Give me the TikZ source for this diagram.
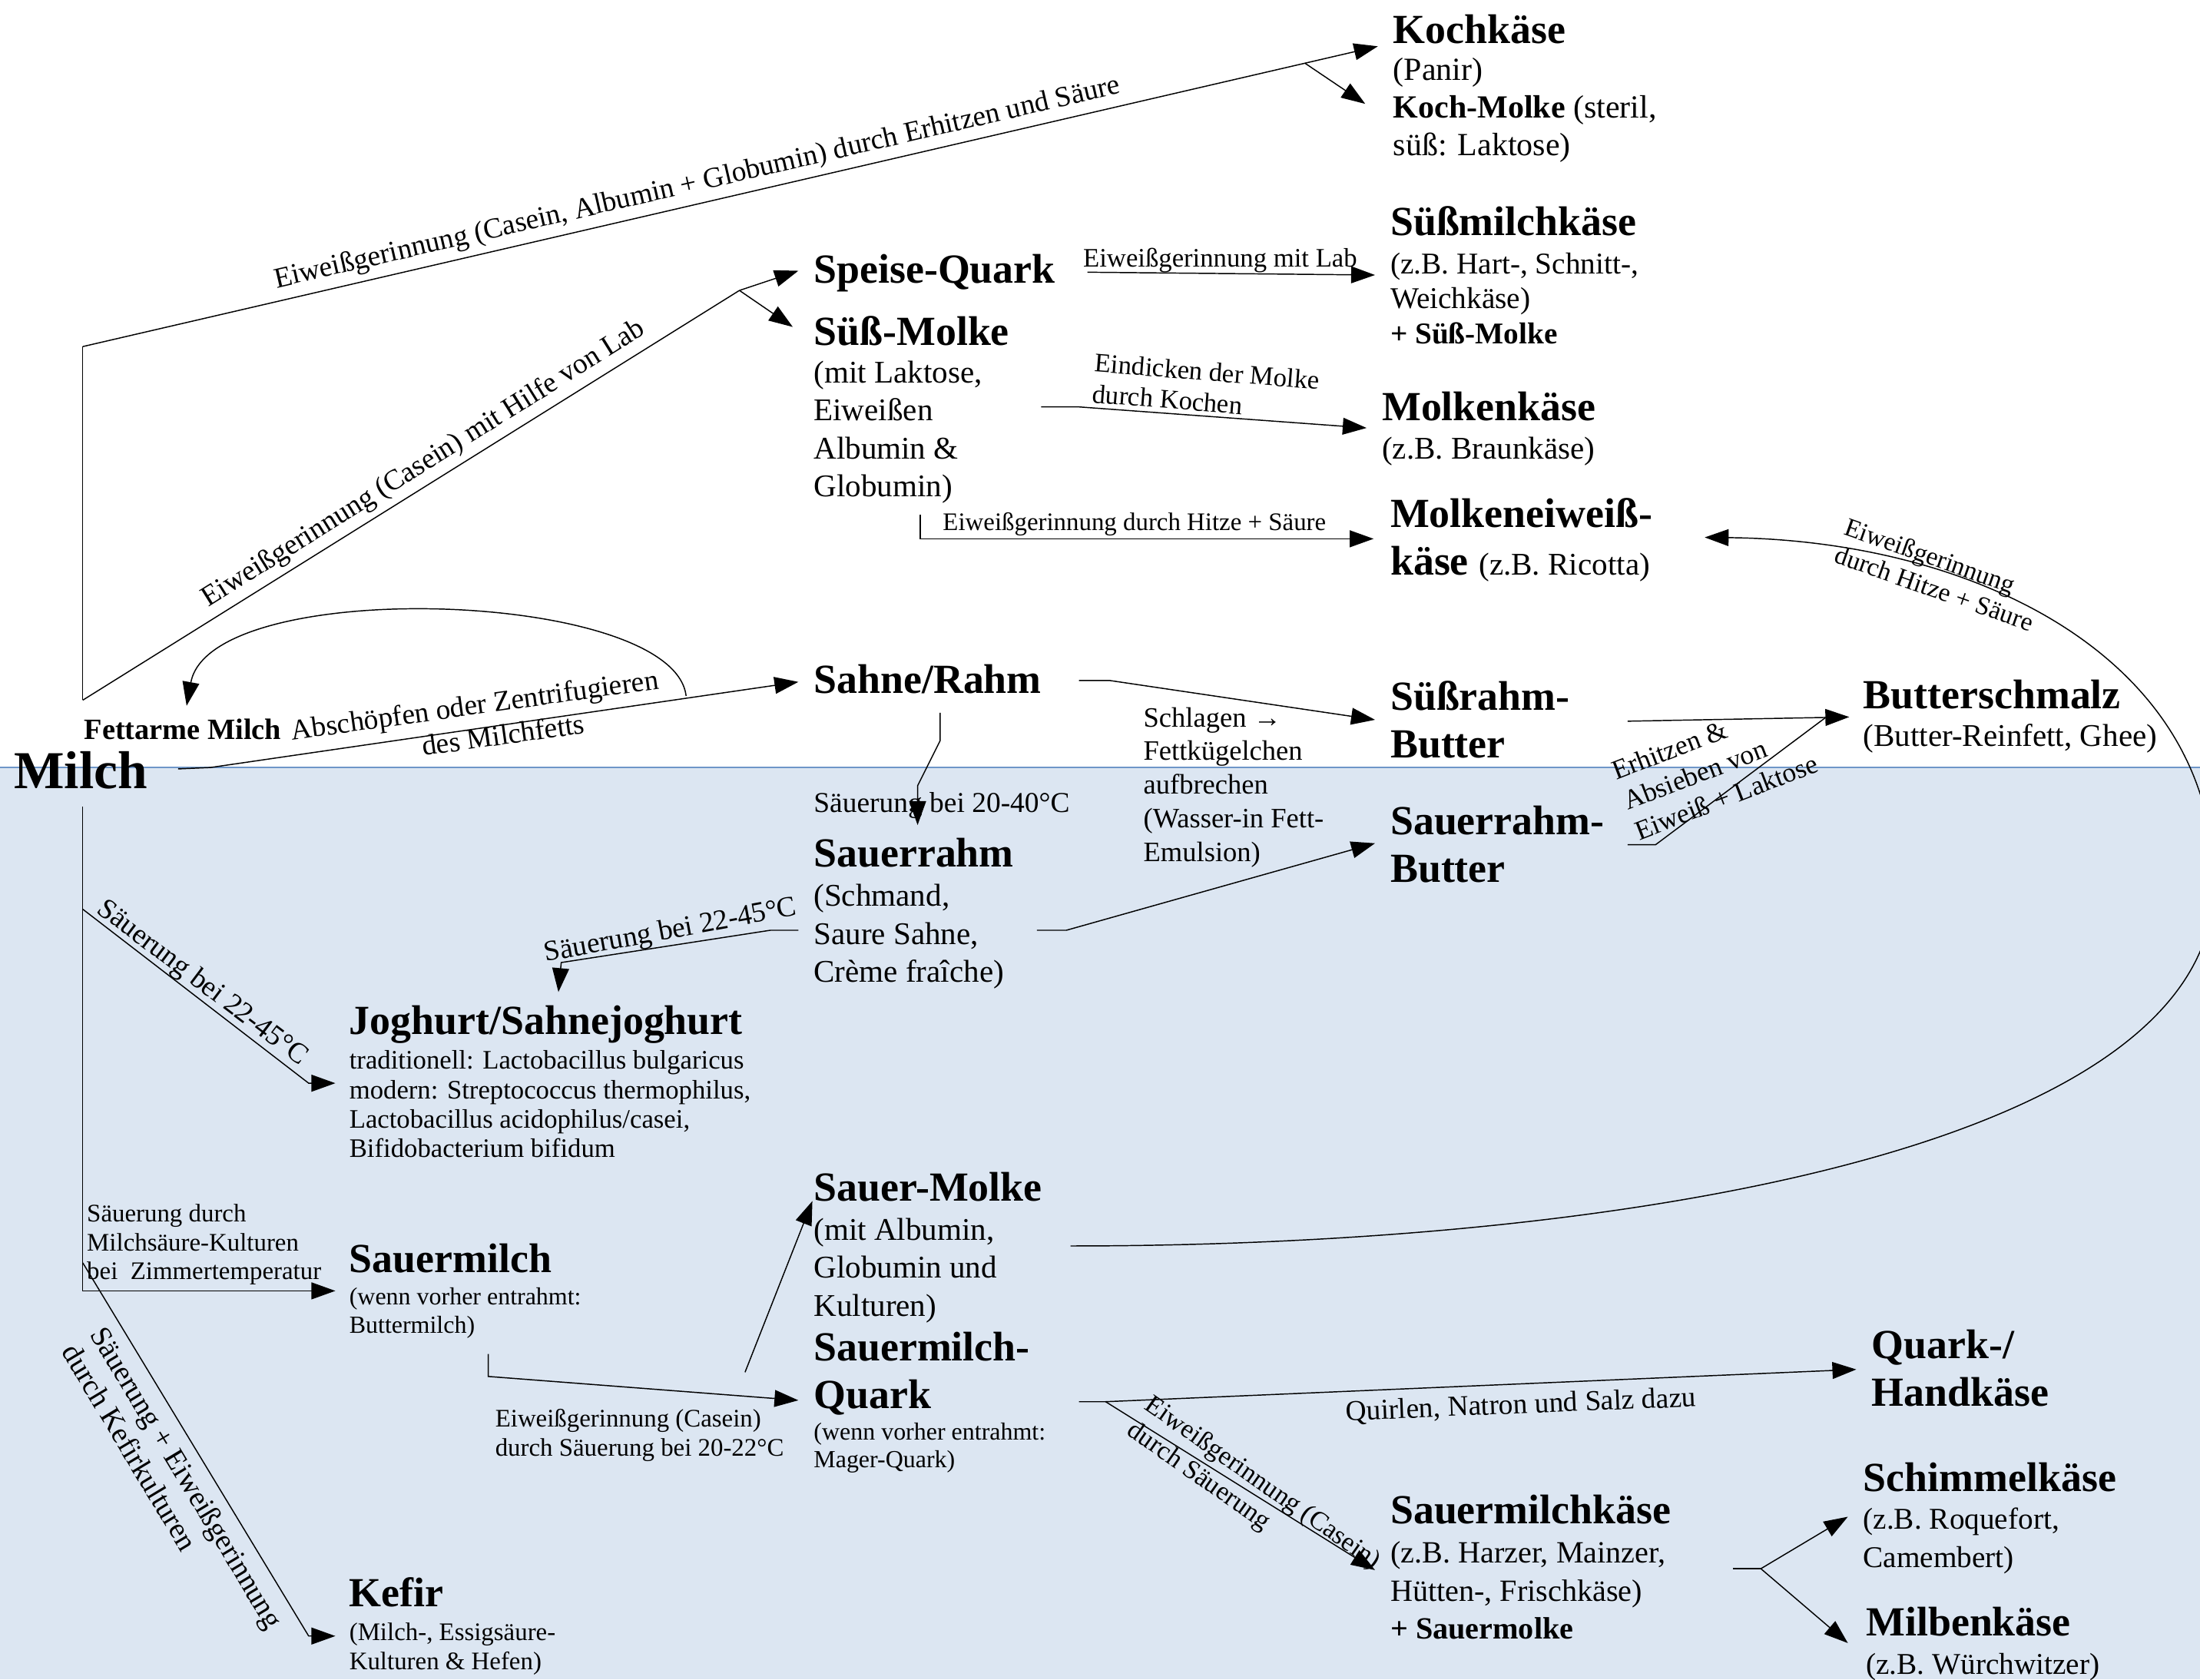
\documentclass[tikz,border=0pt]{standalone}
\usepackage{fontspec}
\setmainfont{Liberation Serif}
\usetikzlibrary{arrows.meta}
\definecolor{bgblue}{RGB}{220,230,242}
\definecolor{sepblue}{RGB}{110,150,200}
\begin{document}
\begin{tikzpicture}[x=1pt,y=-1pt,
  every node/.style={inner sep=0pt, outer sep=0pt},
  conn/.style={line width=0.8pt, draw=black},
  arr/.style={conn, -{Triangle[length=17pt,width=12pt]}},
  ttl/.style={anchor=base west, align=left, font=\fontsize{29.5}{34}\selectfont\bfseries},
  dsc/.style={anchor=base west, align=left, font=\fontsize{22.5}{27}\selectfont},
  sml/.style={anchor=base west, align=left, font=\fontsize{17.5}{20}\selectfont},
  elb/.style={font=\fontsize{19}{22}\selectfont},
  elbL/.style={font=\fontsize{20.5}{24}\selectfont},
]
\useasboundingbox (0,0) rectangle (1568,1197);
\fill[white] (0,0) rectangle (1568,547);
\fill[bgblue] (0,547) rectangle (1568,1197);
\draw[sepblue, line width=0.8pt] (0,547) -- (1568,547);
\clip (0,0) rectangle (1568,1197);

% ---------- nodes (multi-line nodes are anchored at the baseline of their last line) ----------
\node[anchor=base west, font=\fontsize{38}{44}\selectfont\bfseries] (milch) at (10,562) {Milch};
\node[anchor=base west, font=\fontsize{21}{24}\selectfont\bfseries] (fettarm) at (60,527) {Fettarme Milch};

\node[ttl] (kochT) at (993,31) {Kochkäse};
\node[dsc, font=\fontsize{23}{27}\selectfont] (kochD) at (993,111) {(Panir)\\\textbf{Koch-Molke} (steril,\\süß: Laktose)};

\node[ttl] (suessT) at (991,168) {Süßmilchkäse};
\node[dsc, font=\fontsize{21.5}{25}\selectfont] (suessD) at (991,245) {(z.B. Hart-, Schnitt-,\\Weichkäse)\\\textbf{+ Süß-Molke}};

\node[ttl] (molkenT) at (985,300) {Molkenkäse};
\node[dsc] (molkenD) at (985,327) {(z.B. Braunkäse)};

\node[ttl] (ricotta) at (991,410) {Molkeneiweiß-\\käse {\mdseries\fontsize{22.5}{27}\selectfont (z.B. Ricotta)}};

\node[ttl] (speise) at (580,202) {Speise-Quark};
\node[ttl] (suessMT) at (580,246) {Süß-Molke};
\node[dsc] (suessMD) at (580,354) {(mit Laktose,\\Eiweißen\\Albumin \&\\Globumin)};

\node[ttl] (sahne) at (580,494) {Sahne/Rahm};
\node[ttl] (sbutter) at (991,540) {Süßrahm-\\Butter};
\node[ttl] (schmalzT) at (1328,505) {Butterschmalz};
\node[dsc] (schmalzD) at (1328,532) {(Butter-Reinfett, Ghee)};
\node[ttl] (srbutter) at (991,629) {Sauerrahm-\\Butter};

\node[ttl] (srT) at (580,618) {Sauerrahm};
\node[dsc] (srD) at (580,700) {(Schmand,\\Saure Sahne,\\Crème fraîche)};

\node[ttl] (jogT) at (249,737) {Joghurt/Sahnejoghurt};
\node[dsc, font=\fontsize{19}{21}\selectfont] (jogD) at (249,825) {traditionell: Lactobacillus bulgaricus\\modern: Streptococcus thermophilus,\\Lactobacillus acidophilus/casei,\\Bifidobacterium bifidum};

\node[ttl] (smT) at (580,856) {Sauer-Molke};
\node[dsc] (smD) at (580,938) {(mit Albumin,\\Globumin und\\Kulturen)};

\node[ttl] (smqT) at (580,1004) {Sauermilch-\\Quark};
\node[sml] (smqD) at (580,1046) {(wenn vorher entrahmt:\\Mager-Quark)};

\node[ttl] (sauermT) at (249,907) {Sauermilch};
\node[sml] (sauermD) at (249,950) {(wenn vorher entrahmt:\\Buttermilch)};

\node[ttl] (kefirT) at (249,1145) {Kefir};
\node[dsc, font=\fontsize{18}{21}\selectfont] (kefirD) at (249,1190) {(Milch-, Essigsäure-\\Kulturen \& Hefen)};

\node[ttl] (hand) at (1334,1002) {Quark-/\\Handkäse};

\node[ttl] (smkT) at (991,1086) {Sauermilchkäse};
\node[dsc, font=\fontsize{22}{27}\selectfont] (smkD) at (991,1168) {(z.B. Harzer, Mainzer,\\Hütten-, Frischkäse)\\\textbf{+ Sauermolke}};

\node[ttl] (schimT) at (1328,1063) {Schimmelkäse};
\node[dsc, font=\fontsize{21.5}{27}\selectfont] (schimD) at (1328,1117) {(z.B. Roquefort,\\Camembert)};
\node[ttl] (milbT) at (1330,1166) {Milbenkäse};
\node[dsc, font=\fontsize{21.5}{27}\selectfont] (milbD) at (1330,1193) {(z.B. Würchwitzer)};

% ---------- coordinates ----------
\coordinate (mTop) at (59,247);
\coordinate (mFork) at (59,499);
\coordinate (kochIn) at (982,33);
\coordinate (kochFork) at (930,45);
\coordinate (kochMIn) at (973,74);
\coordinate (labFork) at (527,207);
\coordinate (speiseIn) at (569,193);
\coordinate (suessMIn) at (565,233);
\coordinate (fettStart) at (489,496);
\coordinate (fettIn) at (133,503);
\coordinate (milchR) at (127,548);
\coordinate (milchR2) at (150,547);
\coordinate (sahneIn) at (569,486);
\coordinate (speiseOut) at (775,194);
\coordinate (suessIn) at (980,196);
\coordinate (smOut) at (742,290);
\coordinate (smOut2) at (769,290);
\coordinate (molkenIn) at (974,305);
\coordinate (smDown) at (656,367);
\coordinate (smDown2) at (656,384);
\coordinate (ricottaIn) at (979,384);
\coordinate (sahneOut) at (769,485);
\coordinate (sahneOut2) at (791,485);
\coordinate (sbutterIn) at (980,513);
\coordinate (srOut) at (739,663);
\coordinate (srOut2) at (760,663);
\coordinate (srbutterIn) at (980,601);
\coordinate (sahneDown) at (670,508);
\coordinate (sahneDown2) at (670,528);
\coordinate (sahneDown3) at (654,560);
\coordinate (srIn) at (654,588);
\coordinate (srLeft) at (569,663);
\coordinate (srLeft2) at (549,663);
\coordinate (srLeft3) at (400,686);
\coordinate (jogIn2) at (398,707);
\coordinate (mJog) at (59,648);
\coordinate (mJog2) at (220,772);
\coordinate (jogIn) at (239,772);
\coordinate (mBot) at (59,575);
\coordinate (mCorner) at (59,920);
\coordinate (sauermIn) at (239,920);
\coordinate (mKef) at (59,900);
\coordinate (mKef2) at (220,1166);
\coordinate (kefIn) at (239,1166);
\coordinate (sauermOut) at (348,965);
\coordinate (sauermOut2) at (348,981);
\coordinate (smqIn) at (569,998);
\coordinate (smqUp) at (531,978);
\coordinate (smIn) at (579,856);
\coordinate (smRight) at (763,888);
\coordinate (curveR) at (1578,630);
\coordinate (ricottaInR) at (1215,383);
\coordinate (sbutterOut) at (1160,514);
\coordinate (schmalzIn) at (1318,511);
\coordinate (srbutterOut) at (1160,602);
\coordinate (srbutterOut2) at (1180,602);
\coordinate (schmalzJoin) at (1301,511.5);
\coordinate (smqOut) at (769,999);
\coordinate (smqOut2) at (788,999);
\coordinate (handIn) at (1323,976);
\coordinate (smkIn) at (980,1119);
\coordinate (smkOut) at (1235,1118);
\coordinate (smkOut2) at (1255,1118);
\coordinate (schimIn) at (1317,1081);
\coordinate (milbIn) at (1317,1171);

% ---------- connectors ----------
\draw[conn] (mFork) -- (mTop);
\draw[arr] (mTop) -- (kochIn);
\draw[arr] (kochFork) -- (kochMIn);
\draw[conn] (mFork) -- (labFork);
\draw[arr] (labFork) -- (speiseIn);
\draw[arr] (labFork) -- (suessMIn);
\draw[arr] (fettStart) .. controls (480,420) and (150,410) .. (fettIn);
\draw[arr] (milchR) -- (milchR2) -- (sahneIn);
\draw[arr] (speiseOut) -- (suessIn);
\draw[arr] (smOut) -- (smOut2) -- (molkenIn);
\draw[arr] (smDown) -- (smDown2) -- (ricottaIn);
\draw[arr] (sahneOut) -- (sahneOut2) -- (sbutterIn);
\draw[arr] (srOut) -- (srOut2) -- (srbutterIn);
\draw[arr] (sahneDown) -- (sahneDown2) -- (sahneDown3) -- (srIn);
\draw[arr] (srLeft) -- (srLeft2) -- (srLeft3) -- (jogIn2);
\draw[arr] (mJog) -- (mJog2) -- (jogIn);
\draw[arr] (mBot) -- (mCorner) -- (sauermIn);
\draw[arr] (mKef) -- (mKef2) -- (kefIn);
\draw[arr] (sauermOut) -- (sauermOut2) -- (smqIn);
\draw[arr] (smqUp) -- (smIn);
\draw[arr] (smRight) .. controls (1150,888) and (1578,820) .. (curveR)
                     .. controls (1578,470) and (1410,385) .. (ricottaInR);
\draw[arr] (sbutterOut) -- (schmalzIn);
\draw[conn] (srbutterOut) -- (srbutterOut2) -- (schmalzJoin);
\draw[arr] (smqOut) -- (smqOut2) -- (handIn);
\draw[arr] (smqOut2) -- (smkIn);
\draw[conn] (smkOut) -- (smkOut2);
\draw[arr] (smkOut2) -- (schimIn);
\draw[arr] (smkOut2) -- (milbIn);

% ---------- connector labels ----------
\node[elbL, rotate=13] (lKoch) at (497,131) {Eiweißgerinnung (Casein, Albumin + Globumin) durch Erhitzen und Säure};
\node[elbL, rotate=32] (lLab) at (302,331) {Eiweißgerinnung (Casein) mit Hilfe von Lab};
\node[elbL, rotate=8, align=center] (lAbsch) at (340,514) {Abschöpfen oder Zentrifugieren\\\hspace*{34pt}des Milchfetts};
\node[elb, anchor=base west] (lLab2) at (772,190) {Eiweißgerinnung mit Lab};
\node[elb, anchor=base west, rotate=-4.5, align=left] (lEind) at (778.3,286.9) {Eindicken der Molke\\durch Kochen};
\node[font=\fontsize{18}{21}\selectfont, anchor=base west] (lHitze) at (672,378) {Eiweißgerinnung durch Hitze + Säure};
\node[font=\fontsize{20}{24}\selectfont, anchor=base west, align=left] (lSchlag) at (815,614) {Schlagen →\\Fettkügelchen\\aufbrechen\\(Wasser-in Fett-\\Emulsion)};
\node[font=\fontsize{19.5}{23}\selectfont, anchor=base west, rotate=21, align=left] (lErh) at (1168.5,599) {Erhitzen \&\\Absieben von\\Eiweiß + Laktose};
\node[font=\fontsize{18.5}{21}\selectfont, anchor=base west, rotate=-19.5, align=left] (lHitze2) at (1306.5,400.5) {Eiweißgerinnung\\durch Hitze + Säure};
\node[elbL, anchor=base west] (l2040) at (580,579) {Säuerung bei 20-40°C};
\node[elbL, rotate=10.5] (l2245a) at (478,664) {Säuerung bei 22-45°C};
\node[elbL, rotate=-37] (l2245b) at (144,701) {Säuerung bei 22-45°C};
\node[font=\fontsize{18}{20.5}\selectfont, anchor=base west, align=left] (lZimmer) at (62,912) {Säuerung durch\\Milchsäure-Kulturen\\bei\ \ Zimmertemperatur};
\node[font=\fontsize{18}{21}\selectfont, anchor=base west, align=left] (lCasein) at (353,1038) {Eiweißgerinnung (Casein)\\durch Säuerung bei 20-22°C};
\node[elbL, rotate=2.3] (lQuirl) at (1084,1002) {Quirlen, Natron und Salz dazu};
\node[elb, anchor=base west, rotate=-35, align=left] (lCasein2) at (802.4,1022) {Eiweißgerinnung (Casein)\\durch Säuerung};
\node[font=\fontsize{21}{24}\selectfont, anchor=base west, rotate=-59, align=left] (lKefir) at (43.4,963.4) {Säuerung + Eiweißgerinnung\\durch Kefirkulturen};
\end{tikzpicture}
\end{document}
